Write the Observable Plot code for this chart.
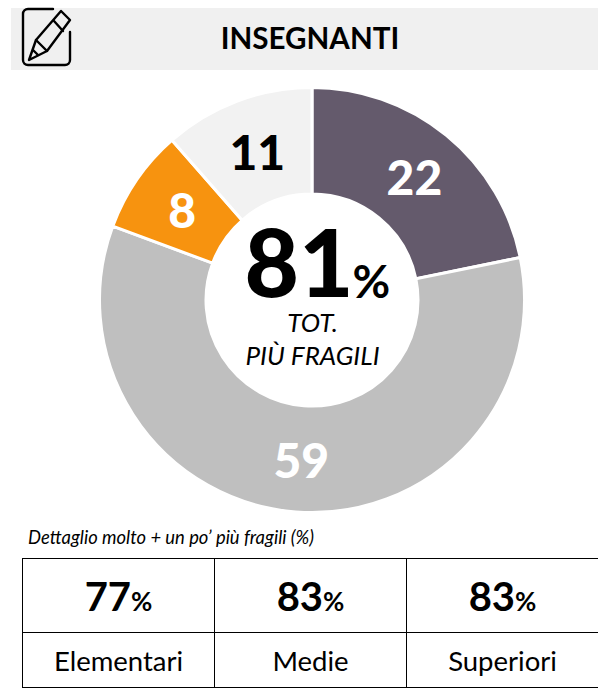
<!DOCTYPE html>
<html><head><meta charset="utf-8">
<script src="https://cdn.jsdelivr.net/npm/d3@7"></script>
<script src="https://cdn.jsdelivr.net/npm/@observablehq/plot@0.6"></script>
<style>
html,body{margin:0;padding:0;background:#fff;width:598px;height:690px;overflow:hidden;font-family:Lato,"Open Sans",sans-serif;color:#000}
#page{position:relative;width:598px;height:690px}
#band{position:absolute;left:11px;top:8px;width:587px;height:62px;background:#f0f0f0}
#title{position:absolute;left:11px;top:7px;width:598px;height:62px;line-height:62px;text-align:center;font-weight:700;font-size:29.6px}
#icon{position:absolute;left:0;top:0}
#chart{position:absolute;left:0;top:70px}
#caption{position:absolute;left:28px;top:527px;font-style:italic;font-size:18.4px;line-height:20px}
table{position:absolute;left:22px;top:558px;width:577px;height:130px;border-collapse:collapse;table-layout:fixed}
td{border:1px solid #000;text-align:center;padding:0}
tr.v td{height:73px;font-weight:700;font-size:40px}
tr.v span{font-size:26px}
tr.l td{font-size:27.5px}
</style></head><body>
<div id="page">
<div id="band"></div>
<div id="title"></div>
<svg id="icon" width="80" height="72" fill="none" stroke="#000" stroke-width="2.4" stroke-linejoin="round" stroke-linecap="round">
<path d="M53 9H28a5 5 0 0 0-5 5V60a5 5 0 0 0 5 5H65a5 5 0 0 0 5-5V32"/>
<path d="M61 11L70 20L47 51L29 60L36 40Z"/>
<path d="M54 21L63 31M36 40L47 51M33 50L38 55"/>
</svg>
<div id="chart"></div>
<div id="caption"></div>
<table><tr class="v"></tr><tr class="l"></tr></table>
</div>
<script>
const titleText = "INSEGNANTI";
const categories = ["Molto più fragili", "Un po' più fragili", "Un po' meno", "Non sa"];
const sliceValues = [21.8, 58.85, 7.9, 11.45];
const sliceLabels = [22, 59, 8, 11];
const sliceColors = ["#645a6c", "#bfbfbf", "#f7930f", "#f2f2f2"];
const labelColors = ["#fff", "#fff", "#fff", "#000"];
const totalValue = "81";
const centerLines = ["TOT.", "PIÙ FRAGILI"];
const captionText = "Dettaglio molto + un po’ più fragili (%)";
const schoolNames = ["Elementari", "Medie", "Superiori"];
const schoolValues = [77, 83, 83];

document.getElementById("title").textContent = titleText;
document.getElementById("caption").textContent = captionText;
const vRow = document.querySelector("tr.v"), lRow = document.querySelector("tr.l");
schoolValues.forEach((v, i) => {
  const a = document.createElement("td"); a.innerHTML = v + "<span>%</span>"; vRow.append(a);
  const b = document.createElement("td"); b.textContent = schoolNames[i]; lRow.append(b);
});

const pie = d3.pie().sort(null).value(d => d.value)(
  categories.map((c, i) => ({name: c, value: sliceValues[i], label: sliceLabels[i], color: sliceColors[i], text: labelColors[i]}))
);
const innerRatio = 106 / 211;
const midR = (1 + 108 / 211) / 2;
const labels = pie.map(p => {
  const a = (p.startAngle + p.endAngle) / 2;
  return {...p.data, x: midR * Math.sin(a), y: midR * Math.cos(a)};
});
const center = [{x: 0, y: 0}];
const font = "Lato, 'Open Sans', sans-serif";

const wedges = (index, {x, y}) => {
  const R = x(1) - x(0);
  const arc = d3.arc().innerRadius(R * innerRatio).outerRadius(R + 1.5);
  const g = d3.create("svg:g").attr("transform", `translate(${x(0)},${y(0)})`);
  g.selectAll("path").data(pie).join("path")
    .attr("d", arc).attr("fill", d => d.data.color)
    .attr("stroke", "#fff").attr("stroke-width", 3);
  return g.node();
};

const fig = Plot.plot({
  width: 598, height: 450,
  marginTop: 0, marginBottom: 0, marginLeft: 0, marginRight: 0,
  x: {domain: [-312 / 211, 286 / 211], axis: null},
  y: {domain: [-220 / 211, 230 / 211], axis: null},
  style: {background: "transparent", overflow: "visible"},
  marks: [
    wedges,
    Plot.text(labels, {x: "x", y: "y", text: "label", fill: "text", dx: 1, dy: 3, fontSize: 48, fontWeight: 900, fontFamily: font}),
    Plot.text(center, {x: "x", y: "y", text: () => totalValue, textAnchor: "end", dx: 41, dy: -34, fontSize: 94, fontWeight: 900, fontFamily: font, fill: "#000"}),
    Plot.text(center, {x: "x", y: "y", text: () => "%", textAnchor: "start", dx: 40, dy: -17, fontSize: 46, fontWeight: 700, fontFamily: font, fill: "#000"}),
    Plot.text(center, {x: "x", y: "y", text: () => centerLines[0], dy: 23, fontSize: 26, fontStyle: "italic", fontFamily: font, fill: "#000"}),
    Plot.text(center, {x: "x", y: "y", text: () => centerLines[1], dy: 56, fontSize: 26, fontStyle: "italic", fontFamily: font, fill: "#000"})
  ]
});
document.getElementById("chart").append(fig);
</script>
</body></html>
